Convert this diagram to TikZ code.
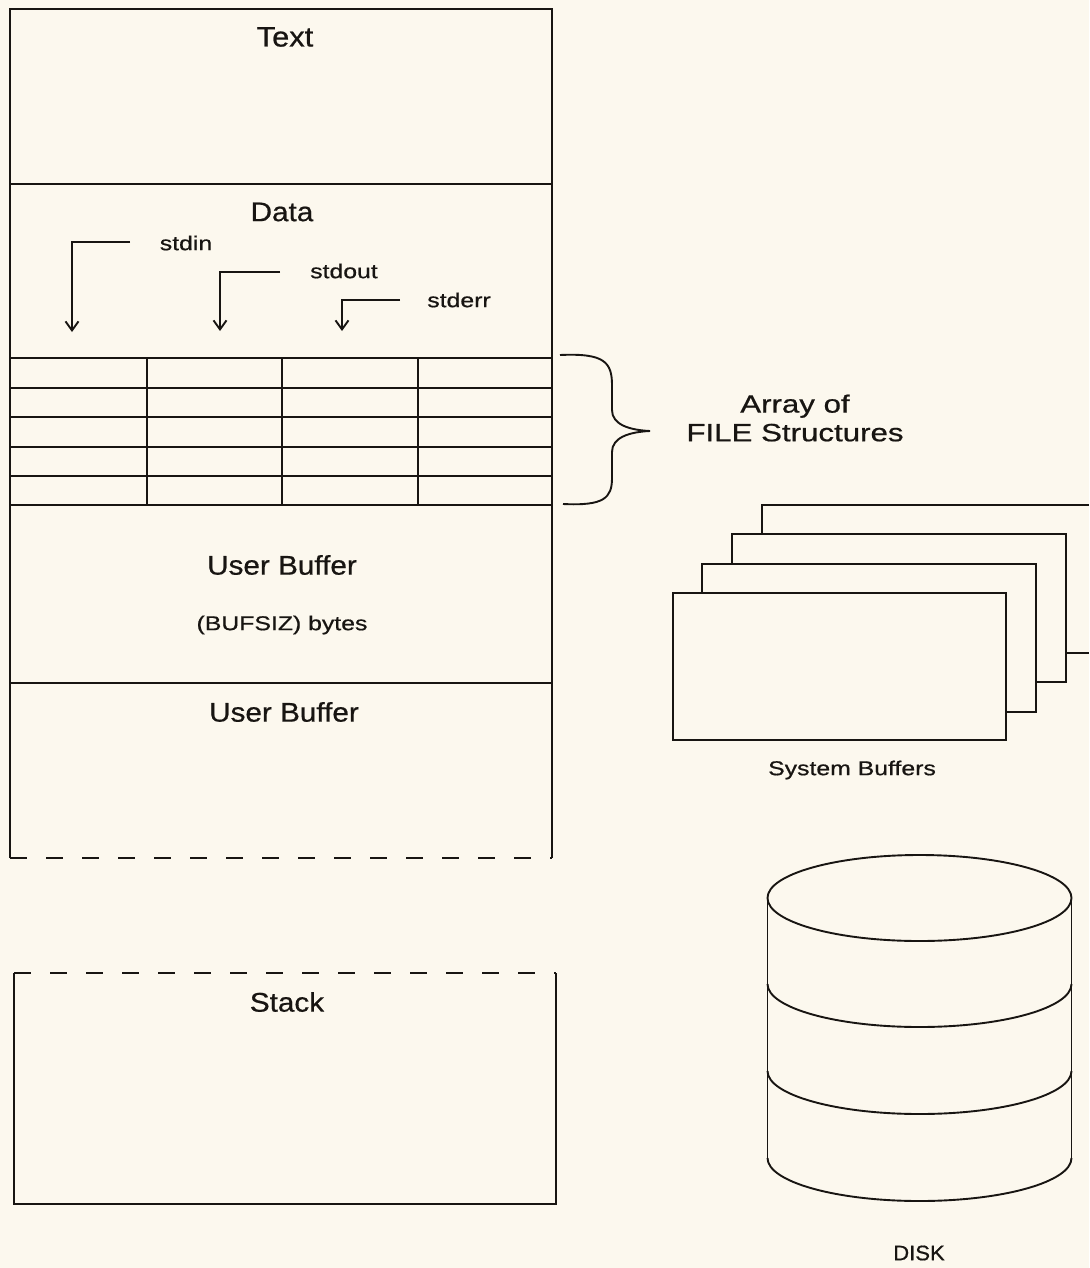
\documentclass[tikz,border=0pt]{standalone}
\usepackage{fontspec}
\setmainfont{Liberation Sans}
\usepackage{graphicx}
\usetikzlibrary{arrows.meta}
\definecolor{paper}{RGB}{252,248,238}
\definecolor{ink}{RGB}{24,21,18}
\newcommand{\bigL}[2][27]{\scalebox{1.1}[1]{\fontsize{#1}{#1}\selectfont\addfontfeature{FakeBold=0.6}#2}}
\newcommand{\smallL}[1]{\scalebox{1.24}[1]{\fontsize{20}{22}\selectfont\addfontfeature{FakeBold=0.6}#1}}
\begin{document}
\begin{tikzpicture}[x=1pt,y=-1pt,line width=1.9pt,ink,
  lbl/.style={text=ink,inner sep=0pt},
  arr/.style={-{Straight Barb[length=9pt,width=13pt]}},
  cut/.style={dash pattern=on 17pt off 19pt},
  buf/.style={fill=paper,draw=ink}]
\fill[paper] (0,0) rectangle (1089,1268);
\useasboundingbox (0,0) rectangle (1089,1268);

% ---------- memory layout box ----------
\draw (10,858) -- (10,9) -- (552,9) -- (552,858);
\draw[cut] (10,858) -- (552,858);
\draw (10,184) -- (552,184);
\foreach \yy in {358,388,417,447,476,505} \draw (10,\yy) -- (552,\yy);
\foreach \xx in {147,282,418} \draw (\xx,358) -- (\xx,505);
\draw (10,683) -- (552,683);

\node[lbl] (lText) at (285,37) {\bigL[28]{Text}};
\node[lbl] (lData) at (282,212) {\bigL{Data}};
\node[lbl] (lUB1) at (282,565) {\bigL{User Buffer}};
\node[lbl] (lBytes) at (282,625) {\smallL{(BUFSIZ) bytes}};
\node[lbl] (lUB2) at (284,712) {\bigL{User Buffer}};

% ---------- stdin / stdout / stderr ----------
\node[lbl] (lIn) at (186,243) {\smallL{stdin}};
\node[lbl] (lOut) at (344,271) {\smallL{stdout}};
\node[lbl] (lErr) at (459,300) {\smallL{stderr}};
\coordinate (inA) at (130,242);  \coordinate (inB) at (72,332);
\coordinate (outA) at (280,272); \coordinate (outB) at (220,331);
\coordinate (errA) at (400,300); \coordinate (errB) at (342,331);
\draw[arr] (inA) -| (inB);
\draw[arr] (outA) -| (outB);
\draw[arr] (errA) -| (errB);

% ---------- brace ----------
\draw (560,355) .. controls (604,353) and (612,362) .. (612,385)
  -- (612,410) .. controls (612,424) and (628,430) .. (650,431)
  .. controls (628,432) and (612,438) .. (612,452)
  -- (612,478) .. controls (612,498) and (604,506) .. (563,504);
\node[lbl,align=center] (lArray) at (795,418)
  {\scalebox{1.25}[1]{\fontsize{25}{30}\selectfont\addfontfeature{FakeBold=0.6}Array of}\\[5pt]
   \scalebox{1.25}[1]{\fontsize{25}{30}\selectfont\addfontfeature{FakeBold=0.6}FILE Structures}};

% ---------- stack ----------
\draw (14,973) -- (14,1204) -- (556,1204) -- (556,973);
\draw[cut] (14,973) -- (556,973);
\node[lbl] (lStack) at (287,1002) {\bigL{Stack}};

% ---------- system buffers ----------
\fill[paper] (762,505) rectangle (1089,653);
\draw (1089,505) -- (762,505) -- (762,653) -- (1089,653);
\draw[buf] (732,534) rectangle (1066,682);
\draw[buf] (702,564) rectangle (1036,712);
\draw[buf] (673,593) rectangle (1006,740);
\node[lbl] (lSys) at (852,770) {\smallL{System Buffers}};

% ---------- disk ----------
\draw (767.5,898) -- (767.5,1158);
\draw (1071.5,898) -- (1071.5,1158);
\draw (919.5,898) ellipse [x radius=152, y radius=43];
\foreach \yy in {984,1071,1158}
  \draw (767.5,\yy) .. controls (767.5,\yy+23.7) and (835.6,\yy+43) .. (919.5,\yy+43)
        .. controls (1003.4,\yy+43) and (1071.5,\yy+23.7) .. (1071.5,\yy);
\node[lbl] (lDisk) at (919,1253) {\scalebox{1.05}[1]{\fontsize{21}{24}\selectfont\addfontfeature{FakeBold=0.6}DISK}};
\end{tikzpicture}
\end{document}
